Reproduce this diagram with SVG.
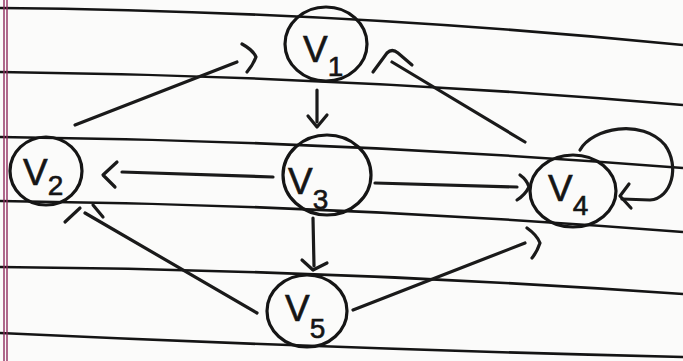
<svg xmlns="http://www.w3.org/2000/svg" width="683" height="361" viewBox="0 0 683 361">
<style>
.paper{fill:#fbfbfa}
.rule{fill:none;stroke:#141414;stroke-width:2.6}
.margin{stroke:#8e2a5c;stroke-width:1.4}
.node{fill:none;stroke:#151515;stroke-width:3.2}
.edge{fill:none;stroke:#1a1a1a;stroke-width:3.2;stroke-linecap:round;stroke-linejoin:round}
.lbl{font-family:"Liberation Sans","DejaVu Sans",sans-serif;font-size:37px;fill:#151515;stroke:#151515;stroke-width:0.6}
.sub{font-size:28px}
</style>
<rect class="paper" x="0" y="0" width="683" height="361"/>
<g id="paper-lines">
<path class="rule" d="M0,8 Q341,11 683,45"/>
<path class="rule" d="M0,72 Q341,76 683,105"/>
<path class="rule" d="M0,137 Q341,141 683,168"/>
<path class="rule" d="M0,201 Q341,205 683,232"/>
<path class="rule" d="M0,267 Q341,270 683,294"/>
<path class="rule" d="M0,333 Q341,349 683,357"/>
<line class="margin" x1="4" y1="0" x2="4" y2="361"/>
<line class="margin" x1="7" y1="0" x2="7" y2="361"/>
</g>
<g id="connectors">
<path class="edge" d="M75,125 L237,62"/>
<path class="edge" d="M242,44 Q253,50 256,57 Q253,65 247,72"/>
<path class="edge" d="M317,90 L317,122"/>
<path class="edge" d="M308,116 L317,127 L327,115"/>
<path class="edge" d="M273,177 L122,172"/>
<path class="edge" d="M117,162 L103,175 L115,187"/>
<path class="edge" d="M375,183 L517,187"/>
<path class="edge" d="M520,175 Q527,180 529,187 Q525,195 517,200"/>
<path class="edge" d="M525,142 L392,62"/>
<path class="edge" d="M373,72 L387,53 Q392,48 398,53 L412,65"/>
<path class="edge" d="M313,218 L314,266"/>
<path class="edge" d="M302,260 L313,270 L327,263"/>
<path class="edge" d="M257,313 L85,213"/>
<path class="edge" d="M65,222 L80,208"/>
<path class="edge" d="M93,205 L103,217"/>
<path class="edge" d="M353,310 L525,243"/>
<path class="edge" d="M527,228 Q537,235 540,243 Q537,252 532,258"/>
<path class="edge" d="M580,150 C592,128 642,118 665,145 C680,166 672,198 650,200 L622,199"/>
<path class="edge" d="M629,184 L620,196 L631,208"/>
</g>
<g id="v1">
<ellipse class="node" cx="326" cy="44" rx="41" ry="37"/>
<text class="lbl" x="303" y="62">V<tspan class="sub" dy="14">1</tspan></text>
</g>
<g id="v2">
<ellipse class="node" cx="46" cy="171" rx="36" ry="34"/>
<text class="lbl" x="23" y="185">V<tspan class="sub" dy="10">2</tspan></text>
</g>
<g id="v3">
<ellipse class="node" cx="327" cy="175" rx="44" ry="40"/>
<text class="lbl" x="288" y="194">V<tspan class="sub" dy="15">3</tspan></text>
</g>
<g id="v4">
<ellipse class="node" cx="573" cy="191" rx="43" ry="36"/>
<text class="lbl" x="548" y="201">V<tspan class="sub" dy="14">4</tspan></text>
</g>
<g id="v5">
<ellipse class="node" cx="307" cy="311" rx="40" ry="36"/>
<text class="lbl" x="285" y="321">V<tspan class="sub" dy="17">5</tspan></text>
</g>
</svg>
